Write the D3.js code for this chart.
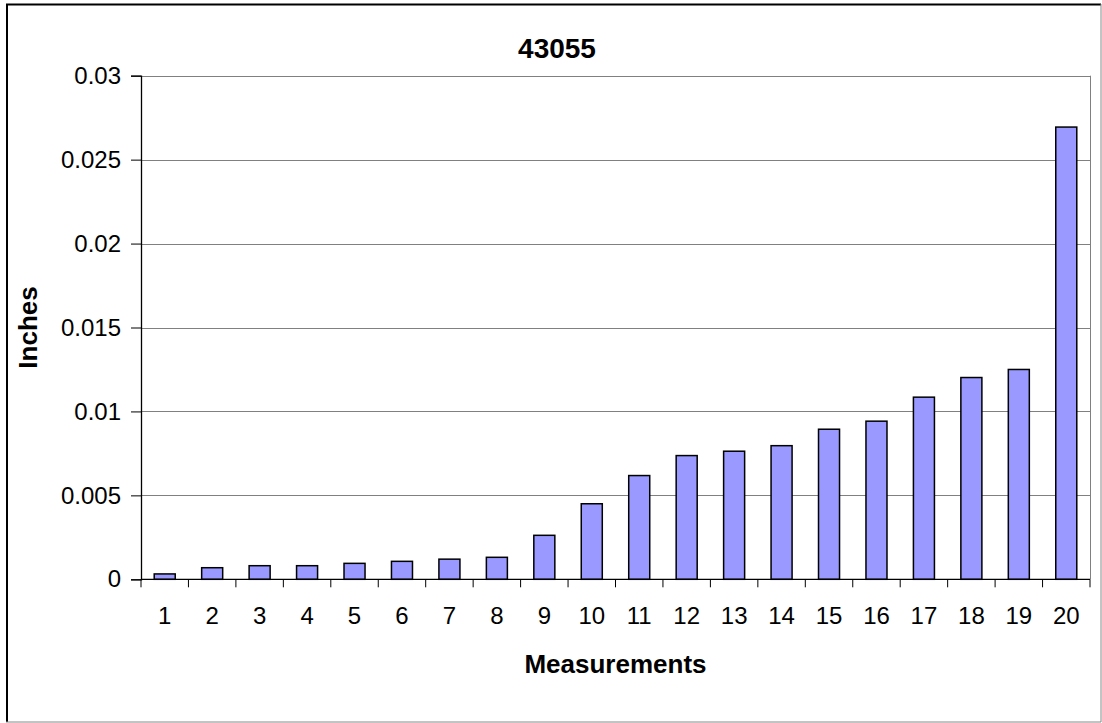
<!DOCTYPE html>
<html><head><meta charset="utf-8">
<script src="https://cdn.jsdelivr.net/npm/d3@7"></script>
<style>body{margin:0;background:#fff}svg{display:block}text{font-family:"Liberation Sans",Arial,sans-serif}</style>
</head><body>
<svg id="c" width="1102" height="723"></svg>
<script>
const categories = ["1","2","3","4","5","6","7","8","9","10","11","12","13","14","15","16","17","18","19","20"];
const values = [0.00032,0.00069,0.00081,0.00081,0.00095,0.00107,0.0012,0.00131,0.00262,0.0045,0.00618,0.00737,0.00763,0.00796,0.00894,0.00942,0.01085,0.01202,0.0125,0.02694];
const yTicks = [0,0.005,0.01,0.015,0.02,0.025,0.03];
const title = "43055", xTitle = "Measurements", yTitle = "Inches";

const svg = d3.select("#c");
const L = 141, R = 1090, T = 75.7, B = 579.3;
// outer border
svg.append("line").attr("x1",7).attr("y1",4).attr("x2",7).attr("y2",722).attr("stroke","#000").attr("stroke-width",2);
svg.append("line").attr("x1",6).attr("y1",4.5).attr("x2",1101).attr("y2",4.5).attr("stroke","#000").attr("stroke-width",2);
svg.append("line").attr("x1",6).attr("y1",722).attr("x2",1101).attr("y2",722).attr("stroke","#888").attr("stroke-width",1);
svg.append("line").attr("x1",1101).attr("y1",4).attr("x2",1101).attr("y2",722).attr("stroke","#888").attr("stroke-width",1);

const x = d3.scaleBand().domain(categories).range([L,R]).paddingInner(0.557).paddingOuter(0.2785);
const y = d3.scaleLinear().domain([0,0.03]).range([B,T]);

// gridlines
svg.append("g").selectAll("line").data(yTicks.filter(d=>d>0)).join("line")
  .attr("x1",L).attr("x2",R).attr("y1",d=>Math.round(y(d))+0.5).attr("y2",d=>Math.round(y(d))+0.5)
  .attr("stroke","#808080").attr("stroke-width",1);
// right edge of plot
svg.append("line").attr("x1",R+0.5).attr("x2",R+0.5).attr("y1",T).attr("y2",B).attr("stroke","#808080");

// bars
svg.append("g").selectAll("rect").data(values).join("rect")
  .attr("x",(d,i)=>x(categories[i])).attr("width",x.bandwidth())
  .attr("y",d=>y(d)).attr("height",d=>B-y(d))
  .attr("fill","#9999FF").attr("stroke","#000").attr("stroke-width",1.5);

// y axis
const ya = d3.axisLeft(y).tickValues(yTicks).tickSize(10).tickPadding(10).tickFormat(d=>d3.format("")(+d.toFixed(3)));
const gy = svg.append("g").attr("transform",`translate(${L},0)`).call(ya);
gy.selectAll("text").attr("font-size",24).attr("fill","#000").attr("font-family","Liberation Sans, Arial, sans-serif");
gy.select(".domain").attr("stroke","#000").attr("stroke-width",1.3);
gy.selectAll(".tick line").attr("stroke","#000");

// x axis
const xa = d3.axisBottom(x).tickSize(0).tickPadding(28);
const gx = svg.append("g").attr("transform",`translate(0,${B})`).call(xa);
gx.selectAll("text").attr("font-size",24).attr("fill","#000").attr("font-family","Liberation Sans, Arial, sans-serif");
gx.select(".domain").remove();
svg.append("line").attr("x1",L).attr("x2",R).attr("y1",B).attr("y2",B).attr("stroke","#000").attr("stroke-width",1.3);
const step = x.step();
svg.append("g").selectAll("line").data(d3.range(categories.length+1)).join("line")
  .attr("x1",i=>L+i*step).attr("x2",i=>L+i*step).attr("y1",B).attr("y2",B+8).attr("stroke","#000");

// titles
svg.append("text").attr("x",557).attr("y",58).attr("text-anchor","middle").attr("font-size",28).attr("font-weight","bold").text(title);
svg.append("text").attr("x",(L+R)/2).attr("y",673).attr("text-anchor","middle").attr("font-size",26).attr("font-weight","bold").text(xTitle);
svg.append("text").attr("transform",`translate(37,${(T+B)/2}) rotate(-90)`).attr("text-anchor","middle").attr("font-size",26).attr("font-weight","bold").text(yTitle);
</script>
</body></html>
